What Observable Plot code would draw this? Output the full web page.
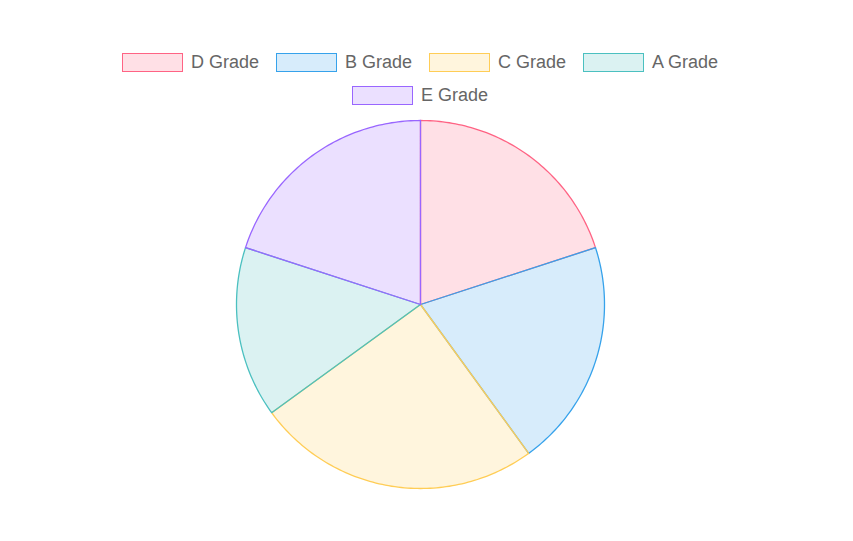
<!DOCTYPE html>
<html>
<head>
<meta charset="utf-8">
<script src="https://cdn.jsdelivr.net/npm/d3@7"></script>
<script src="https://cdn.jsdelivr.net/npm/@observablehq/plot@0.6"></script>
<style>
  html, body { margin: 0; padding: 0; background: #fff; overflow: hidden; }
  #legend {
    position: relative; width: 700px; margin-left: 70px; height: 110px;
    padding-top: 46px; box-sizing: border-box;
    display: flex; flex-wrap: wrap; justify-content: center; align-content: flex-start;
    column-gap: 17px; row-gap: 0;
    font-family: "Liberation Sans", Arial, Helvetica, sans-serif; font-size: 18px; color: #666;
  }
  .item { display: flex; align-items: center; height: 33px; }
  .sw { width: 61px; height: 19px; box-sizing: border-box; border: 1.5px solid; margin-right: 8px; }
  #chart svg { display: block; }
</style>
</head>
<body>
<div id="legend"></div>
<div id="chart"></div>
<script>
const categories = ["D Grade", "B Grade", "C Grade", "A Grade", "E Grade"];
const values = [20, 20, 25, 15, 20];
const borderColors = ["rgb(255,99,132)", "rgb(54,162,235)", "rgb(255,205,86)", "rgb(75,192,192)", "rgb(153,102,255)"];
const fillColors = ["rgba(255,99,132,0.2)", "rgba(54,162,235,0.2)", "rgba(255,205,86,0.2)", "rgba(75,192,192,0.2)", "rgba(153,102,255,0.2)"];

// legend
const legend = document.getElementById("legend");
categories.forEach((c, i) => {
  const it = document.createElement("div");
  it.className = "item";
  const sw = document.createElement("div");
  sw.className = "sw";
  sw.style.borderColor = borderColors[i];
  sw.style.background = fillColors[i];
  const t = document.createElement("span");
  t.textContent = c;
  it.appendChild(sw); it.appendChild(t);
  legend.appendChild(it);
});

// slice outlines in unit-circle data space (angle clockwise from top)
const total = d3.sum(values);
const rows = [];
let acc = 0;
values.forEach((v, i) => {
  const a0 = acc / total * 2 * Math.PI;
  acc += v;
  const a1 = acc / total * 2 * Math.PI;
  const name = categories[i];
  rows.push({name, x: 0, y: 0});
  const n = Math.max(2, Math.ceil((a1 - a0) / (Math.PI / 180)));
  for (let k = 0; k <= n; k++) {
    const a = a0 + (a1 - a0) * k / n;
    rows.push({name, x: Math.sin(a), y: Math.cos(a)});
  }
  rows.push({name, x: 0, y: 0});
});

const plot = Plot.plot({
  width: 853,
  height: 431,
  marginLeft: 236,
  marginRight: 249,
  marginTop: 10,
  marginBottom: 53,
  x: {domain: [-1, 1], axis: null},
  y: {domain: [-1, 1], axis: null},
  color: {type: "ordinal", domain: categories, range: borderColors},
  marks: [
    Plot.line(rows, {
      x: "x", y: "y", z: "name",
      stroke: "name", fill: "name", fillOpacity: 0.2,
      strokeWidth: 1.3, strokeLinejoin: "round", curve: "linear"
    })
  ]
});
document.getElementById("chart").appendChild(plot);
</script>
</body>
</html>
